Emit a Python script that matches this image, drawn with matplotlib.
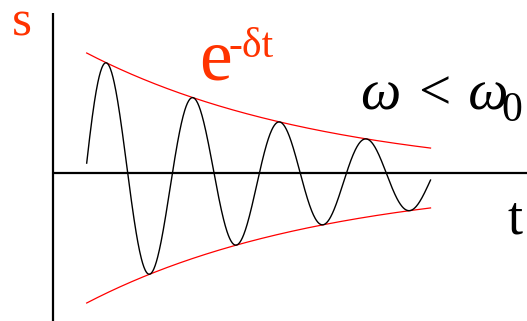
import numpy as np
import matplotlib
matplotlib.use("Agg")
import matplotlib.pyplot as plt

SERIF = "Liberation Serif"

# Damped oscillation parameters (time in periods, s in units of initial amplitude)
t_start, t_end = 0.0, 3.97
period = 1.0
delta = 0.36
amplitude = 1.0
t_zero = -0.019          # upward zero crossing
s_offset = -0.04         # rest position of the oscillation

# Axis extents
t_axis = -0.389
s_axis_top = 1.28
x_limits = (-1.001, 5.084)
y_limits = (-1.184, 1.384)

RED_TEXT = "#ff3300"

t = np.linspace(t_start, t_end, 800)
envelope = amplitude * np.exp(-delta * t)
s = s_offset + envelope * np.sin(2 * np.pi * (t - t_zero) / period)

W, H = 527, 321
fig = plt.figure(figsize=(W / 100, H / 100), dpi=100)
ax = fig.add_axes([0, 0, 1, 1])
ax.set_xlim(*x_limits)
ax.set_ylim(*y_limits)
ax.axis("off")

# coordinate axes
ax.plot([t_axis, x_limits[1]], [0, 0], color="black", lw=1.6, solid_capstyle="butt")
ax.plot([t_axis, t_axis], [y_limits[0], s_axis_top], color="black", lw=1.6,
        solid_capstyle="butt")

# envelope and oscillation
ax.plot(t, s_offset + envelope, color="#ff0000", lw=0.9)
ax.plot(t, s_offset - envelope, color="#ff0000", lw=0.9)
ax.plot(t, s, color="black", lw=1.0)


def px(x, y):
    return x / W, 1 - y / H


kw = dict(transform=fig.transFigure, ha="left", va="baseline", family=SERIF)
# axis names
fig.text(*px(12, 35.5), "s", fontsize=37, color=RED_TEXT, **kw)
fig.text(*px(507, 234), "t", fontsize=39, color="black", **kw)

# envelope label e^(-δt)
fig.text(*px(199, 80), "e", fontsize=53, color=RED_TEXT, **kw)
fig.text(*px(228, 57), "-δt", fontsize=30, color=RED_TEXT, **kw)

# condition ω < ω0
fig.text(*px(361, 110), "ω < ω", fontsize=41, style="italic", color="black", **kw)
fig.text(*px(501, 121), "0", fontsize=30, color="black", **kw)

fig.savefig("out.png", dpi=100)
